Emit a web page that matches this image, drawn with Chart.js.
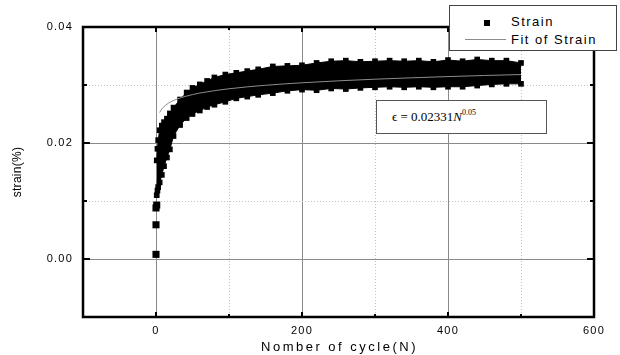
<!DOCTYPE html>
<html>
<head>
<meta charset="utf-8">
<script src="https://cdn.jsdelivr.net/npm/chart.js@4/dist/chart.umd.min.js"></script>
<style>
  body { margin: 0; background: #fff; }
  #wrap { position: relative; width: 620px; height: 355px; }
  .legend {
    position: absolute; left: 449px; top: 5px; width: 168px; height: 46px;
    background: #fff; border: 1px solid #444; box-sizing: border-box;
    font: 13px "Liberation Sans", Arial, sans-serif; letter-spacing: 1.5px; color: #000;
  }
  .legend .sym-sq { position: absolute; left: 34px; top: 14px; width: 6px; height: 6px; background: #000; }
  .legend .sym-ln { position: absolute; left: 15px; top: 33px; width: 41px; height: 1px; background: #8c8c8c; }
  .legend .t1 { position: absolute; left: 61px; top: 8px; line-height: 15px; }
  .legend .t2 { position: absolute; left: 61px; top: 26px; line-height: 15px; }
  .eqn {
    position: absolute; left: 376px; top: 100px; width: 171px; height: 34px;
    background: #fff; border: 1px solid #555; box-sizing: border-box;
    font: 13px "Liberation Serif", "Times New Roman", serif; color: #000;
  }
  .eqn span.txt { position: absolute; left: 15px; top: 8px; white-space: nowrap; }
  .eqn sup { font-size: 8px; vertical-align: 6px; line-height: 0; }
</style>
</head>
<body>
<div id="wrap">
  <canvas id="chart"></canvas>
  <div class="legend">
    <div class="sym-sq"></div><div class="t1">Strain</div>
    <div class="sym-ln"></div><div class="t2">Fit of Strain</div>
  </div>
  <div class="eqn"><span class="txt">&#1013; = 0.02331<i>N</i><sup>0.05</sup></span></div>
</div>
<script>
// Measured strain band (cyclic loading): max / min strain per cycle
const strainN     = [1, 2, 3, 5, 8, 11, 15, 19, 24, 33, 42, 50, 60, 70, 80, 95, 110, 125, 140, 160, 180, 200,
                     220, 240, 260, 280, 300, 320, 340, 360, 380, 400, 420, 440, 460, 480, 500];
const strainUpper = [0.0170, 0.0190, 0.0205, 0.0222, 0.0230, 0.0236, 0.0242, 0.0251, 0.0261, 0.0275, 0.0287, 0.0295,
                     0.0301, 0.0307, 0.0313, 0.0318, 0.0321, 0.0324, 0.0327, 0.0332, 0.0333, 0.0334,
                     0.0338, 0.0341, 0.0342, 0.0340, 0.0341, 0.0342, 0.0341, 0.0342, 0.0340, 0.0343,
                     0.0341, 0.0344, 0.0342, 0.0342, 0.0338];
const strainLower = [0.0110, 0.0118, 0.0124, 0.0132, 0.0145, 0.0160, 0.0175, 0.0189, 0.0212, 0.0231, 0.0243, 0.0250,
                     0.0256, 0.0262, 0.0266, 0.0271, 0.0277, 0.0280, 0.0283, 0.0286, 0.0290, 0.0292,
                     0.0291, 0.0294, 0.0293, 0.0295, 0.0296, 0.0297, 0.0296, 0.0297, 0.0296, 0.0297,
                     0.0297, 0.0299, 0.0301, 0.0302, 0.0302];

// first few cycles, drawn as separate squares
const firstN      = [0, 0, 0, 1];
const firstStrain = [0.0008, 0.0059, 0.0088, 0.0093];

// power-law fit
const fitN      = [5, 8, 10, 15, 20, 30, 40, 60, 100, 150, 200, 250, 300, 350, 400, 450, 500];
const fitStrain = [0.02526, 0.02587, 0.02615, 0.02669, 0.02708, 0.02763, 0.02803, 0.02861, 0.02935,
                   0.02995, 0.03038, 0.03072, 0.03100, 0.03124, 0.03145, 0.03164, 0.03180];

const xMajor = [0, 200, 400, 600];
const yMajor = [0, 0.02, 0.04];

const pts = (xs, ys) => xs.map((x, i) => ({ x, y: ys[i] }));
const isMajorX = v => xMajor.includes(v);
const isMajorY = v => yMajor.some(m => Math.abs(m - v) < 1e-9);

Chart.defaults.font.family = '"Liberation Sans", Arial, sans-serif';
Chart.defaults.color = "#000";

// thick frame, inward tick marks on all four sides, axis titles
const frame = {
  id: "frame",
  beforeDraw(chart) { chart.ctx.letterSpacing = "1.2px"; },
  afterDraw(chart) {
    const { ctx, chartArea: a, scales: { x, y } } = chart;
    const seg = (x1, y1, x2, y2) => { ctx.beginPath(); ctx.moveTo(x1, y1); ctx.lineTo(x2, y2); ctx.stroke(); };
    ctx.save();
    ctx.strokeStyle = "#000";
    ctx.lineWidth = 2;
    x.ticks.forEach(t => {
      if (t.value <= -100 || t.value >= 600) return;
      const px = Math.round(x.getPixelForValue(t.value));
      const len = isMajorX(t.value) ? 5 : 3;
      seg(px, a.bottom, px, a.bottom - len);
      seg(px, a.top, px, a.top + len);
    });
    y.ticks.forEach(t => {
      if (t.value <= -0.0099 || t.value >= 0.0399) return;
      const py = Math.round(y.getPixelForValue(t.value));
      const len = isMajorY(t.value) ? 7 : 4;
      seg(a.left, py, a.left + len, py);
      seg(a.right, py, a.right - len, py);
    });
    ctx.lineWidth = 2.5;
    ctx.strokeRect(a.left, a.top, a.right - a.left, a.bottom - a.top);

    ctx.fillStyle = "#000";
    ctx.textAlign = "center";
    ctx.textBaseline = "middle";
    ctx.font = '13px "Liberation Sans", Arial, sans-serif';
    ctx.letterSpacing = "2.5px";
    ctx.fillText("Nomber of cycle(N)", (a.left + a.right) / 2 + 1, 347);
    ctx.font = '12px "Liberation Sans", Arial, sans-serif';
    ctx.letterSpacing = "0.3px";
    ctx.translate(18, (a.top + a.bottom) / 2);
    ctx.rotate(-Math.PI / 2);
    ctx.fillText("strain(%)", 0, 0);
    ctx.restore();
  }
};

const bandStyle = {
  showLine: true,
  borderColor: "#000",
  borderWidth: 1,
  backgroundColor: "#000",
  pointStyle: "rect",
  pointRadius: 4,
  pointBackgroundColor: "#000",
  pointBorderWidth: 0,
  tension: 0
};

new Chart(document.getElementById("chart"), {
  type: "line",
  data: {
    datasets: [
      {
        label: "Fit of Strain",
        data: pts(fitN, fitStrain),
        borderColor: "#8c8c8c",
        borderWidth: 1,
        pointRadius: 0,
        cubicInterpolationMode: "monotone",
        fill: false,
        order: 0
      },
      { label: "Strain max", data: pts(strainN, strainUpper), fill: "+1", order: 1, ...bandStyle },
      { label: "Strain min", data: pts(strainN, strainLower), fill: false, order: 2, ...bandStyle },
      {
        label: "Strain",
        data: pts(firstN, firstStrain),
        showLine: false,
        pointStyle: "rect",
        pointRadius: 5,
        pointBackgroundColor: "#000",
        pointBorderWidth: 0,
        order: 3
      }
    ]
  },
  options: {
    responsive: true,
    maintainAspectRatio: false,
    animation: false,
    layout: { padding: { top: 27, right: 26, left: 0, bottom: 0 } },
    plugins: { legend: { display: false }, tooltip: { enabled: false } },
    scales: {
      x: {
        type: "linear",
        min: -100,
        max: 600,
        afterFit: s => { s.height = 38; },
        ticks: {
          stepSize: 100,
          padding: 7,
          maxRotation: 0,
          autoSkip: false,
          font: { size: 11 },
          callback: v => (isMajorX(v) ? String(v) : "")
        },
        grid: {
          drawTicks: false,
          color: c => (c.tick.value <= -100 || c.tick.value >= 600) ? "rgba(0,0,0,0)"
                      : isMajorX(c.tick.value) ? "#8a8a8a" : "#c4c4c4",
          lineWidth: 1
        },
        border: { display: false, dash: c => (c.tick && !isMajorX(c.tick.value) ? [1, 2] : []) }
      },
      y: {
        min: -0.01,
        max: 0.04,
        afterFit: s => { s.width = 83; },
        ticks: {
          stepSize: 0.01,
          padding: 10,
          autoSkip: false,
          font: { size: 11 },
          callback: v => (isMajorY(v) ? v.toFixed(2) : "")
        },
        grid: {
          drawTicks: false,
          color: c => (c.tick.value <= -0.0099 || c.tick.value >= 0.0399) ? "rgba(0,0,0,0)"
                      : isMajorY(c.tick.value) ? "#8a8a8a" : "#c4c4c4",
          lineWidth: 1
        },
        border: { display: false, dash: c => (c.tick && !isMajorY(c.tick.value) ? [1, 2] : []) }
      }
    }
  },
  plugins: [frame]
});
</script>
</body>
</html>
